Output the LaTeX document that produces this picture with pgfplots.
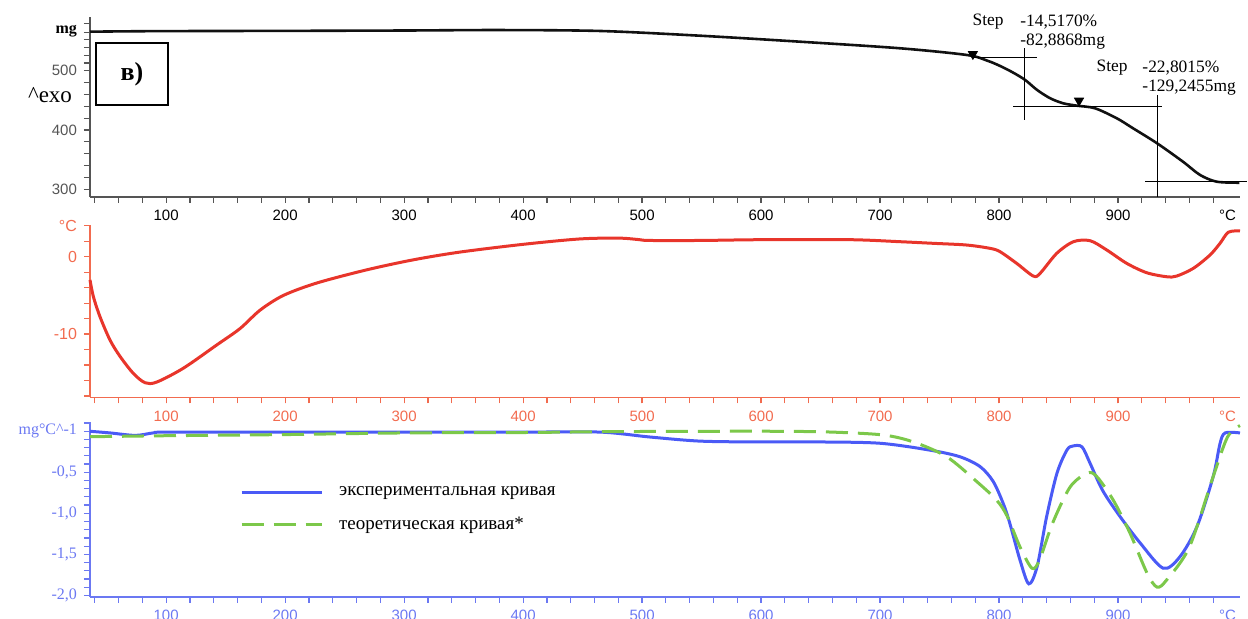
\documentclass[border=0pt]{standalone}
\usepackage{fontspec}
\setmainfont{Liberation Serif}
\setsansfont{Liberation Sans}
\usepackage{pgfplots}
\pgfplotsset{compat=1.18}
\definecolor{tgk}{HTML}{111111}
\definecolor{axgray}{HTML}{555555}
\definecolor{dtared}{HTML}{E8352B}
\definecolor{dtaax}{HTML}{F26B4F}
\definecolor{dtgblue}{HTML}{4A5AF6}
\definecolor{dtgax}{HTML}{6B78F2}
\definecolor{dtggreen}{HTML}{7CC84A}
\pgfplotsset{
  panel/.style={
    scale only axis, width=575pt,
    xmin=36, xmax=1002.5,
    axis x line*=bottom, axis y line*=left,
    tick align=outside,
    major tick length=3pt, minor tick length=3pt,
    xtick={100,200,300,400,500,600,700,800,900},
    xticklabels={100,200,300,400,500,600,700,800,900},
    minor xtick={40,60,...,980},
    extra x ticks={992}, extra x tick labels={°C},
    extra x tick style={tick style={draw=none}},
    /pgf/number format/assume math mode=true,
    clip=false,
  }
}
\begin{document}
\begin{tikzpicture}
\path[use as bounding box] (0,0) rectangle (624pt,-309.5pt);
% ---------------- TG ----------------
\begin{axis}[panel, at={(45pt,-8.5pt)}, anchor=north west, height=90pt,
  ymin=287, ymax=590.6,
  ytick={300,400,500},
  yticklabels={300,400,500},
  minor ytick={320,340,360,380,420,440,460,480,513,526,539,552,565,579},
  extra y ticks={566}, extra y tick labels={{\rmfamily\bfseries\fontsize{8}{9}\selectfont\color{black} mg}},
  extra y tick style={tick style={draw=none}},
  axis line style={axgray, line width=0.8pt}, every tick/.style={axgray, line width=0.6pt},
  xticklabel style={black, font=\sffamily\fontsize{7.5}{9}\selectfont},
  yticklabel style={axgray, font=\sffamily\fontsize{7.5}{9}\selectfont},
]
\addplot[tgk, line width=1.3pt, smooth] coordinates {
(36,565.8) (60,566.3) (100,566.8) (200,567.2) (300,567.8) (380,568.6) (465,567)
(549,559) (633,548.9) (717,537.8) (773,526.5) (790,517) (801,507.9) (812,496.6)
(822,484.3) (832,467.5) (843,453.5) (854,445)
(865.5,441) (880.7,436.6) (899,419.7) (912.6,402.9) (932.8,377.6) (954.6,346.5)
(969,324.1) (983,312.8) (1002,311.1)};
\addplot[black, line width=0.5pt] coordinates {(778,521.9) (832,521.9)};
\addplot[black, line width=0.5pt] coordinates {(821.8,538.3) (821.8,416.9)};
\addplot[black, line width=0.5pt] coordinates {(811.8,439.3) (937,439.3)};
\addplot[black, line width=0.5pt] coordinates {(932.8,459) (932.8,287)};
\addplot[black, line width=0.5pt] coordinates {(922.7,312.3) (1008,312.3)};
\addplot[only marks, mark=triangle*, mark size=2.6pt, mark options={rotate=180, fill=black, draw=black}]
  coordinates {(778,528) (867.2,449.4)};
\node[font=\fontsize{8.7}{10}\selectfont] at (axis cs:790.8,582) {Step};
\node[anchor=west, inner sep=0pt, font=\fontsize{8.7}{10}\selectfont] at (axis cs:817.6,582) {-14,5170\%};
\node[anchor=west, inner sep=0pt, font=\fontsize{8.7}{10}\selectfont] at (axis cs:817.6,548.4) {-82,8868mg};
\node[font=\fontsize{8.7}{10}\selectfont] at (axis cs:895,504.5) {Step};
\node[anchor=west, inner sep=0pt, font=\fontsize{8.7}{10}\selectfont] at (axis cs:920.2,504.5) {-22,8015\%};
\node[anchor=west, inner sep=0pt, font=\fontsize{8.7}{10}\selectfont] at (axis cs:920.2,470.8) {-129,2455mg};
\end{axis}
% ---------------- DTA ----------------
\begin{axis}[panel, at={(45pt,-112.5pt)}, anchor=north west, height=86.25pt,
  ymin=-18.2, ymax=4.1,
  ytick={-10,0,4}, yticklabels={-10,0,°C},
  minor ytick={-18,-16,...,2},
  axis line style={dtaax, line width=0.8pt}, every tick/.style={dtaax, line width=0.6pt},
  xticklabel style={dtaax, font=\sffamily\fontsize{7.5}{9}\selectfont},
  yticklabel style={dtaax, font=\sffamily\fontsize{8}{9}\selectfont},
]
\addplot[dtared, line width=1.5pt, smooth] coordinates {
(36,-3.0) (38.9,-5.2) (44.5,-7.8) (52.9,-10.8) (61.3,-12.9) (72.5,-15.1) (82.4,-16.3)
(92.2,-16.2) (114.6,-14.4) (142.6,-11.4) (162,-9.3) (179,-6.9) (198.6,-5.0)
(226.6,-3.4) (268.5,-1.7) (307.8,-0.4) (347,0.6) (400,1.6)
(448,2.3) (481,2.4) (498,2.2) (506,2.1) (549,2.1) (600,2.2) (675,2.2) (716.8,1.94)
(744.8,1.73) (772.8,1.51) (792.4,1.08) (800.8,0.65) (814.8,-0.86) (828.8,-2.5)
(834.5,-2.15) (848.5,0.44) (862.5,1.94) (876.5,2.07) (890.5,0.87) (907.3,-0.86)
(924.1,-2.07) (940.9,-2.59) (949.3,-2.5) (963.3,-1.5) (977.3,0.22) (985.7,1.73)
(992.7,3.16) (1002.5,3.35)};
\end{axis}
% ---------------- DTG ----------------
\begin{axis}[panel, at={(45pt,-210.85pt)}, anchor=north west, height=87.5pt,
  ymin=-2.017, ymax=0.117,
  ytick={-2,-1.5,-1,-0.5,0},
  yticklabels={{-2,0},{-1,5},{-1,0},{-0,5},{mg°C\textasciicircum-1}},
  minor ytick={-1.9,-1.8,-1.7,-1.6,-1.4,-1.3,-1.2,-1.1,-0.9,-0.8,-0.7,-0.6,-0.4,-0.3,-0.2,-0.1,0.1},
  axis line style={dtgax, line width=0.8pt}, every tick/.style={dtgax, line width=0.6pt},
  xticklabel style={dtgax, font=\sffamily\fontsize{7.5}{9}\selectfont},
  yticklabel style={dtgax, font=\rmfamily\fontsize{8}{9}\selectfont},
  legend style={at={(0.125,0.68)}, anchor=north west, draw=none, fill=none,
    font=\fontsize{9.5}{11}\selectfont, row sep=5.5pt,
    /tikz/every odd column/.append style={column sep=6pt}},
  legend cell align=left,
  legend image code/.code={\draw[#1] (0pt,0pt) -- (40pt,0pt);},
]
\addplot[dtgblue, line width=1.5pt, smooth] coordinates {
(36,0.0) (52.9,-0.02) (74,-0.05) (89,-0.02) (100.6,-0.01) (200,-0.01) (300,-0.01)
(400,-0.01) (465,-0.01) (506.7,-0.07) (549,-0.12) (599,-0.13) (650,-0.13) (700,-0.146)
(742,-0.23) (767,-0.31) (784,-0.43) (795,-0.61) (803.5,-0.88) (809,-1.12)
(817.6,-1.57) (825,-1.86)
(832,-1.65) (840,-1.04) (848.7,-0.51) (857,-0.23) (862,-0.18) (869.7,-0.19)
(876.5,-0.39) (887,-0.72) (901.7,-1.04) (918.5,-1.36) (938,-1.67) (952,-1.53)
(966.4,-1.16) (980,-0.55) (985.7,-0.15) (990,-0.02) (1002.5,-0.02)};
\addlegendentry{экспериментальная кривая}
\addplot[dtggreen, line width=1.5pt, dash pattern=on 11pt off 5pt, smooth] coordinates {
(36,-0.066) (100,-0.054) (200,-0.04) (300,-0.02) (400,-0.015) (465,-0.005) (550,0.0)
(616,0.0) (660,-0.01) (702.6,-0.045) (728,-0.13) (756,-0.31) (781,-0.61) (798,-0.84)
(807,-1.04) (817.6,-1.41) (827.7,-1.67) (834,-1.57) (845,-1.12) (859.7,-0.68) (874,-0.51)
(882,-0.55) (896,-0.84) (910,-1.24) (924.4,-1.73) (932.8,-1.90) (941,-1.81)
(960,-1.41) (980,-0.55) (992,-0.07) (1002.5,0.07)};
\addlegendentry{теоретическая кривая*}
\end{axis}
% ---------------- labels ----------------
\node[font=\rmfamily\fontsize{11.5}{13}\selectfont, inner sep=0pt] at (25pt,-47.5pt) {\textasciicircum exo};
\node[draw=black, line width=1pt, minimum width=36pt, minimum height=31pt,
  font=\rmfamily\bfseries\fontsize{13}{14}\selectfont] at (66pt,-37pt) {в)};
\end{tikzpicture}
\end{document}
